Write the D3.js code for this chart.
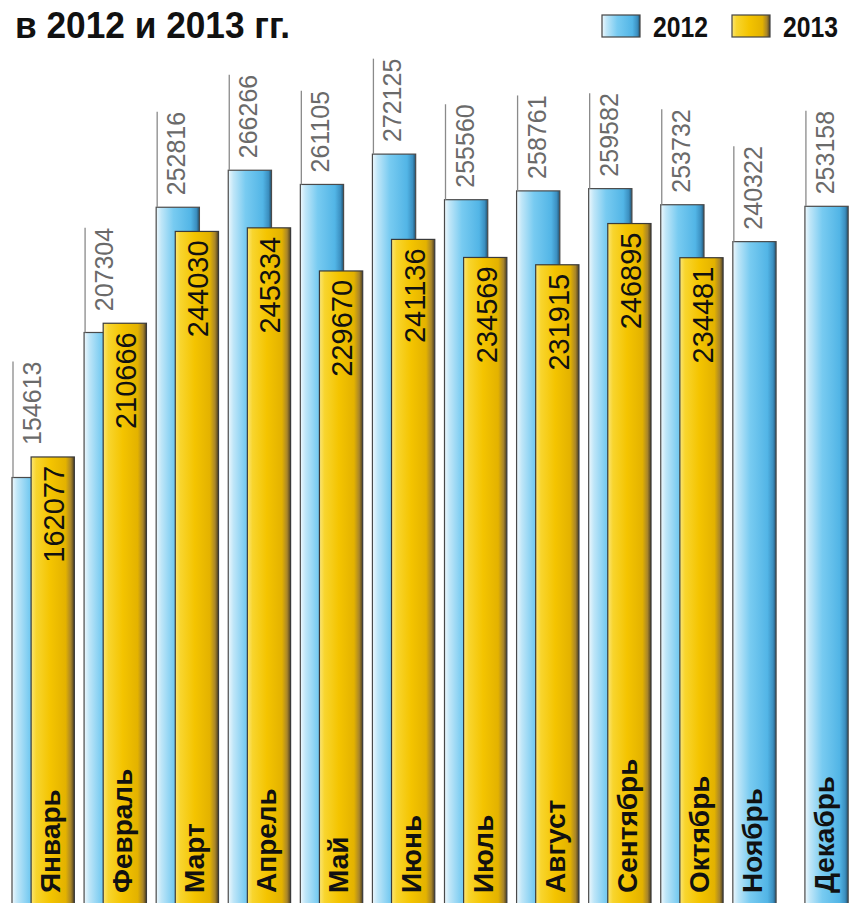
<!DOCTYPE html>
<html>
<head>
<meta charset="utf-8">
<script src="https://cdn.jsdelivr.net/npm/d3@7"></script>
<style>
  body { margin: 0; background: #fff; }
  svg { display: block; }
</style>
</head>
<body>
<div id="chart"></div>
<script>
// Monthly values for 2012 and 2013.
var months = ["Январь", "Февраль", "Март", "Апрель", "Май", "Июнь",
              "Июль", "Август", "Сентябрь", "Октябрь", "Ноябрь", "Декабрь"];
var values2012 = [154613, 207304, 252816, 266266, 261105, 272125,
                  255560, 258761, 259582, 253732, 240322, 253158];
var values2013 = [162077, 210666, 244030, 245334, 229670, 241136,
                  234569, 231915, 246895, 234481, null, null];
var seriesNames = ["2012", "2013"];
var titleText = "в 2012 и 2013 гг.";

var width = 849, height = 903;

var svg = d3.select("#chart").append("svg")
    .attr("width", width).attr("height", height);

// Gradients for the bars
var defs = svg.append("defs");
function addGradient (id, stops) {
    var g = defs.append("linearGradient").attr("id", id)
        .attr("x1", "0%").attr("x2", "100%").attr("y1", "0%").attr("y2", "0%");
    stops.forEach(function (s) {
        g.append("stop").attr("offset", s[0]).attr("stop-color", s[1]);
    });
}
addGradient("blueGrad", [["0%", "#eef8fd"], ["12%", "#bfe6f8"], ["40%", "#78cbf1"],
                         ["80%", "#52b5e6"], ["93%", "#3b8fc0"], ["100%", "#24506c"]]);
addGradient("yellowGrad", [["0%", "#fbe576"], ["12%", "#f8d52e"], ["45%", "#f4c400"],
                           ["80%", "#e3b200"], ["92%", "#a8852a"], ["100%", "#4a3d22"]]);

// Scales
var x = d3.scaleBand().domain(months).range([12, 877]).paddingInner(0).paddingOuter(0);
var y = d3.scaleLinear().domain([0, 300000]).range([903, 77.4]);
var barW = x.bandwidth() * 0.6;
var shift2013 = x.bandwidth() * 0.265;

var rows = months.map(function (m, i) {
    return { month: m, v12: values2012[i], v13: values2013[i] };
});

// 2012 bars
svg.selectAll(".bar2012").data(rows).enter().append("rect")
    .attr("class", "bar2012")
    .attr("x", function (d) { return x(d.month); })
    .attr("y", function (d) { return y(d.v12); })
    .attr("width", barW)
    .attr("height", function (d) { return height + 5 - y(d.v12); })
    .attr("fill", "url(#blueGrad)")
    .attr("stroke", "#4a4a4a").attr("stroke-width", 1.2);

// 2013 bars
var rows13 = rows.filter(function (d) { return d.v13 != null; });
svg.selectAll(".bar2013").data(rows13).enter().append("rect")
    .attr("class", "bar2013")
    .attr("x", function (d) { return x(d.month) + shift2013; })
    .attr("y", function (d) { return y(d.v13); })
    .attr("width", barW)
    .attr("height", function (d) { return height + 5 - y(d.v13); })
    .attr("fill", "url(#yellowGrad)")
    .attr("stroke", "#3a3a3a").attr("stroke-width", 1.2);

// 2012 value labels above the bars, with a thin leader line
rows.forEach(function (d) {
    var top = y(d.v12);
    var start = (d.v13 != null ? Math.min(top, y(d.v13)) : top) - 12;
    var bx = x(d.month);
    var t = svg.append("text")
        .attr("transform", "translate(" + (bx + 29) + "," + start + ") rotate(-90)")
        .attr("font-family", "Liberation Sans, Arial, sans-serif")
        .attr("font-size", 25)
        .attr("fill", "#6a6a6a")
        .text(d.v12);
    var len = t.node().getComputedTextLength();
    svg.append("line")
        .attr("x1", bx + 1).attr("x2", bx + 1)
        .attr("y1", top).attr("y2", start - len)
        .attr("stroke", "#8a8a8a").attr("stroke-width", 1.3);
});

// 2013 value labels inside the bars
rows13.forEach(function (d) {
    svg.append("text")
        .attr("transform", "translate(" + (x(d.month) + shift2013 + 33) + "," + (y(d.v13) + 9) + ") rotate(-90)")
        .attr("text-anchor", "end")
        .attr("font-family", "Liberation Sans, Arial, sans-serif")
        .attr("font-size", 29)
        .attr("fill", "#111")
        .text(d.v13);
});

// Month names at the bottom of the front bar
rows.forEach(function (d) {
    var bx = x(d.month) + (d.v13 != null ? shift2013 : 0);
    svg.append("text")
        .attr("transform", "translate(" + (bx + 29) + ",893) rotate(-90)")
        .attr("font-family", "Liberation Sans, Arial, sans-serif")
        .attr("font-size", 28).attr("font-weight", "bold")
        .attr("fill", "#111")
        .text(d.month);
});

// Title
svg.append("text")
    .attr("x", 15).attr("y", 38)
    .attr("font-family", "Liberation Sans, Arial, sans-serif")
    .attr("font-size", 36).attr("font-weight", "bold")
    .attr("fill", "#111")
    .attr("textLength", 275).attr("lengthAdjust", "spacingAndGlyphs")
    .text(titleText);

// Legend
var legend = [
    { name: seriesNames[0], fill: "url(#blueGrad)", sx: 602, tx: 653 },
    { name: seriesNames[1], fill: "url(#yellowGrad)", sx: 732, tx: 783 }
];
legend.forEach(function (l) {
    svg.append("rect")
        .attr("x", l.sx).attr("y", 15).attr("width", 38).attr("height", 22)
        .attr("fill", l.fill).attr("stroke", "#444").attr("stroke-width", 1.2);
    svg.append("text")
        .attr("x", l.tx).attr("y", 37)
        .attr("font-family", "Liberation Sans, Arial, sans-serif")
        .attr("font-size", 29).attr("font-weight", "bold")
        .attr("fill", "#111")
        .attr("textLength", 55).attr("lengthAdjust", "spacingAndGlyphs")
        .text(l.name);
});
</script>
</body>
</html>
